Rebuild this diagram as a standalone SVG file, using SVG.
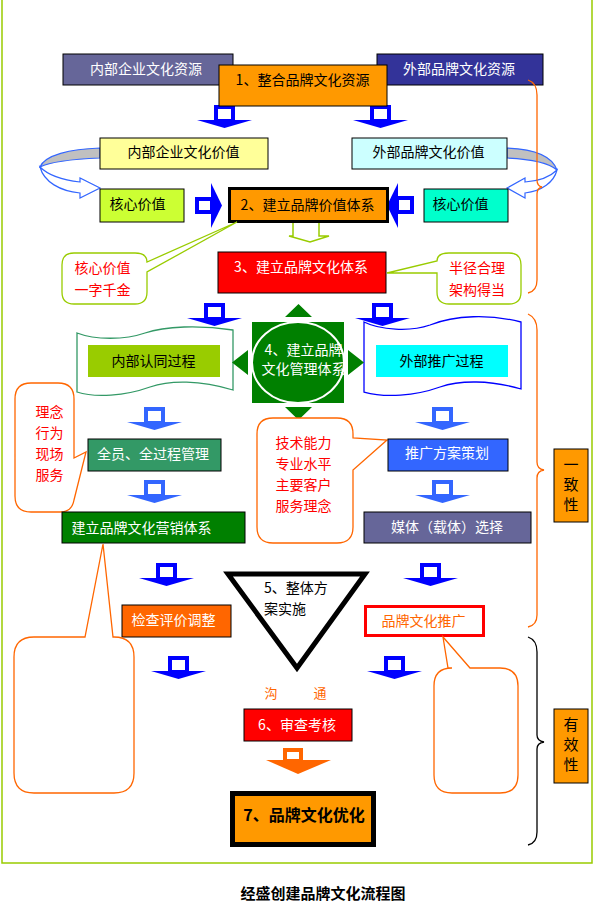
<svg xmlns="http://www.w3.org/2000/svg" xmlns:xlink="http://www.w3.org/1999/xlink" width="593" height="919" viewBox="0 0 593 919">
<style>
text{font-family:"Noto Sans CJK SC","Noto Sans",sans-serif;font-size:14px;text-anchor:middle}
.w{fill:#fff}.k{fill:#000}.r{fill:#FF0000}.o{fill:#FF6600}
.box{stroke:#000;stroke-width:1}
.bub{fill:#fff;stroke-width:1.3}
.brace{fill:none;stroke-width:1.3}
</style>
<defs>
<g id="darr">
<path d="M0,15 H55 L27.5,23 Z" fill="currentColor"/>
<rect x="19" y="2" width="17" height="14" fill="#fff" stroke="currentColor" stroke-width="4"/>
</g>
</defs>
<rect width="593" height="919" fill="#fff"/>
<path d="M2,0 V863 H592 V0" fill="none" stroke="#99CC00" stroke-width="1.5"/>

<g id="connectors">
<use xlink:href="#darr" x="197" y="105" style="color:#0000FF"/>
<use xlink:href="#darr" x="353" y="105" style="color:#0000FF"/>
<use xlink:href="#darr" x="187" y="303" style="color:#0000FF"/>
<use xlink:href="#darr" x="355" y="303" style="color:#0000FF"/>
<use xlink:href="#darr" x="127" y="407" style="color:#3366FF"/>
<use xlink:href="#darr" x="415" y="407" style="color:#3366FF"/>
<use xlink:href="#darr" x="127" y="480" style="color:#3366FF"/>
<use xlink:href="#darr" x="415" y="480" style="color:#3366FF"/>
<use xlink:href="#darr" x="139" y="563" style="color:#0000FF"/>
<use xlink:href="#darr" x="403" y="563" style="color:#0000FF"/>
<use xlink:href="#darr" x="151" y="656" style="color:#0000FF"/>
<use xlink:href="#darr" x="367" y="656" style="color:#0000FF"/>
<g style="color:#FF6600">
<path d="M266,760 H331 L298,774 Z" fill="currentColor"/>
<rect x="285" y="750" width="16" height="11" fill="#fff" stroke="currentColor" stroke-width="4"/>
</g>
<!-- right pointing arrow into box 2 -->
<path d="M211,183 V228 L222,205.5 Z" fill="#0000FF"/>
<rect x="197" y="199" width="15" height="13" fill="#fff" stroke="#0000FF" stroke-width="4"/>
<!-- left pointing arrow into box 2 -->
<path d="M398,183 V228 L387,205.5 Z" fill="#0000FF"/>
<rect x="397" y="198" width="15" height="14" fill="#fff" stroke="#0000FF" stroke-width="4"/>
<!-- small arrow 2 -> 3 -->
<path d="M293,222 V236 H289 L310,242 L329,236 H319 V222" fill="#fff" stroke="#99CC00" stroke-width="1.5"/>
<!-- curved arrows -->
<path d="M100,148 C70,149 45,155 40,167 C50,162 75,159 100,158 Z" fill="#C0C0C0" stroke="#3366FF" stroke-width="1.2"/>
<path d="M40,167 C48,175 62,180 80,182 L80,178 L100,188 L80,198 L80,193 C60,191 44,182 40,167 Z" fill="#fff" stroke="#3366FF" stroke-width="1.2"/>
<path d="M507,148 C535,149 552,156 557,170 C548,162 530,159 507,158 Z" fill="#C0C0C0" stroke="#3366FF" stroke-width="1.2"/>
<path d="M557,170 C550,177 540,181 525,182 L525,178 L507,188 L525,198 L525,193 C542,191 554,182 557,170 Z" fill="#fff" stroke="#3366FF" stroke-width="1.2"/>
</g>

<g id="n-res-in"><rect class="box" x="63" y="54" width="170" height="31" fill="#666699"/><text class="w" x="146" y="74">内部企业文化资源</text></g>
<g id="n-res-out"><rect class="box" x="377" y="54" width="166" height="31" fill="#333399"/><text class="w" x="459" y="74">外部品牌文化资源</text></g>
<g id="n1"><rect class="box" x="219" y="65" width="168" height="41" fill="#FF9900"/><text class="k" x="302.5" y="85">1、整合品牌文化资源</text></g>
<g id="n-val-in"><rect class="box" x="100" y="138" width="168" height="31" fill="#FFFF99"/><text class="k" x="183.5" y="157">内部企业文化价值</text></g>
<g id="n-val-out"><rect class="box" x="352" y="138" width="155" height="31" fill="#CCFFFF"/><text class="k" x="428.5" y="157">外部品牌文化价值</text></g>
<g id="n-core-l"><rect class="box" x="100" y="189" width="84" height="33" fill="#CCFF33"/><text class="k" x="137.5" y="209">核心价值</text></g>
<g id="n-core-r"><rect class="box" x="424" y="189" width="84" height="33" fill="#00FFCC"/><text class="k" x="460.5" y="209">核心价值</text></g>
<g id="n2"><rect x="229.5" y="188.5" width="158" height="33" fill="#FF9900" stroke="#000" stroke-width="3"/><text class="k" x="307.5" y="210">2、建立品牌价值体系</text></g>
<g id="n3"><rect class="box" x="218" y="252" width="168" height="41" fill="#FF0000"/><text class="w" x="301" y="271.5">3、建立品牌文化体系</text></g>

<g id="b-core">
<path class="bub" stroke="#99CC00" d="M74,253 H135 Q147,253 147,262 L237,222 L147,272 V292 Q147,304 135,304 H74 Q62,304 62,292 V265 Q62,253 74,253 Z"/>
<text class="r" x="102.5" y="273">核心价值</text><text class="r" x="102.5" y="295">一字千金</text>
</g>
<g id="b-radius">
<path class="bub" stroke="#99CC00" d="M449,253 H509 Q521,253 521,265 V292 Q521,304 509,304 H449 Q437,304 437,292 V273 H387 L437,261 Q437,253 449,253 Z"/>
<text class="r" x="477" y="273">半径合理</text><text class="r" x="477" y="295">架构得当</text>
</g>

<g id="n-internal">
<path d="M77,333 C95,340 125,340 145,333 C165,326 200,325 233,330 L233,390 C200,380 170,380 150,387 C125,396 95,398 77,392 Z" fill="#fff" stroke="#339966" stroke-width="1.3"/>
<rect x="88" y="345" width="132" height="32" fill="#99CC00"/>
<text class="k" x="153.5" y="366">内部认同过程</text>
</g>
<g id="n-external">
<path d="M364,322 C380,330 410,332 430,325 C455,315 490,314 521,322 L521,389 C490,380 460,380 440,387 C415,396 385,398 364,392 Z" fill="#fff" stroke="#0000FF" stroke-width="1.3"/>
<rect x="376" y="345" width="132" height="32" fill="#00FFFF"/>
<text class="k" x="441.5" y="366">外部推广过程</text>
</g>
<g id="n4">
<rect x="252" y="322" width="92" height="81" fill="#008000"/>
<ellipse cx="298" cy="362.5" rx="46" ry="40.5" fill="#008000" stroke="#fff" stroke-width="2"/>
<path d="M285,317 H312 L298.5,304 Z M285,407 H312 L298.5,420 Z M248,350 V375 L232,362.5 Z M348,350 V375 L364,362.5 Z" fill="#008000"/>
<text class="w" x="303.5" y="355">4、建立品牌</text><text class="w" x="303.5" y="374">文化管理体系</text>
</g>

<g id="b-idea">
<path class="bub" stroke="#FF6600" d="M31,383 H58 Q74,383 74,399 V458 L86,452 L74,500 Q72,512 60,512 H31 Q15,512 15,496 V399 Q15,383 31,383 Z"/>
<text class="r" x="49.5" y="417">理念</text><text class="r" x="49.5" y="438">行为</text><text class="r" x="49.5" y="459">现场</text><text class="r" x="49.5" y="480">服务</text>
</g>
<g id="b-tech">
<path class="bub" stroke="#FF6600" d="M273,418 H337 Q353,418 353,434 V438 L387,440 L353,470 V527 Q353,543 337,543 H273 Q257,543 257,527 V434 Q257,418 273,418 Z"/>
<text class="r" x="303.5" y="448">技术能力</text><text class="r" x="303.5" y="469">专业水平</text><text class="r" x="303.5" y="490">主要客户</text><text class="r" x="303.5" y="511">服务理念</text>
</g>

<g id="n-all"><rect class="box" x="88" y="439" width="133" height="32" fill="#339966"/><text class="w" x="153" y="459">全员、全过程管理</text></g>
<g id="n-plan"><rect class="box" x="388" y="439" width="120" height="32" fill="#3366FF"/><text class="w" x="447" y="458">推广方案策划</text></g>
<g id="n-market"><rect class="box" x="62" y="512" width="183" height="31" fill="#008000"/><text class="w" x="141.5" y="532.5">建立品牌文化营销体系</text></g>
<g id="n-media"><rect class="box" x="364" y="512" width="167" height="31" fill="#666699"/><text class="w" x="447" y="532">媒体（载体）选择</text></g>

<g id="n5">
<path d="M228,574 H365 L297,668 Z" fill="#fff" stroke="#000" stroke-width="5" stroke-linejoin="miter"/>
<text class="k" x="264" y="593" style="text-anchor:start">5、整体方</text>
<text class="k" x="264" y="614" style="text-anchor:start">案实施</text>
</g>
<g id="n-check"><rect class="box" x="122" y="605" width="109" height="32" fill="#FF6600"/><text class="w" x="173.5" y="625">检查评价调整</text></g>
<g id="n-promo"><rect x="365.5" y="606.5" width="118" height="29" fill="#fff" stroke="#FF0000" stroke-width="3"/><text class="o" x="423.5" y="626">品牌文化推广</text></g>

<g id="b-empty-l">
<path class="bub" stroke="#FF6600" d="M34,637 H85 L103,544 L113,637 H114 Q134,637 134,657 V773 Q134,793 114,793 H34 Q14,793 14,773 V657 Q14,637 34,637 Z"/>
</g>
<g id="b-empty-r">
<path class="bub" stroke="#FF6600" d="M452,668 H448 L443,637 L470,668 H500 Q518,668 518,686 V775 Q518,793 500,793 H452 Q434,793 434,775 V686 Q434,668 452,668 Z"/>
</g>

<g id="t-comm"><text class="o" x="271" y="698" style="font-size:13px">沟</text><text class="o" x="320" y="698" style="font-size:13px">通</text></g>
<g id="n6"><rect class="box" x="244" y="709" width="108" height="32" fill="#FF0000"/><text class="w" x="297" y="730">6、审查考核</text></g>
<g id="n7"><rect x="232.5" y="793.5" width="141" height="51" fill="#FF9900" stroke="#000" stroke-width="5"/><text class="k" x="304" y="821" style="font-size:16px;font-weight:bold">7、品牌文化优化</text></g>

<g id="braces">
<path class="brace" stroke="#FF6600" d="M528,80 Q537,83 537,95 V180 Q537,186 542,187 Q537,188 537,194 V280 Q537,291 528,293"/>
<path class="brace" stroke="#FF6600" d="M528,314 Q537,318 537,330 V462 Q537,469 544,470 Q537,471 537,478 V615 Q537,625 528,627"/>
<path class="brace" stroke="#000" d="M528,637 Q537,640 537,652 V735 Q537,741 544,742 Q537,743 537,749 V832 Q537,843 528,845"/>
</g>
<g id="n-consist"><rect class="box" x="554" y="449" width="34" height="73" fill="#FF9900"/><text class="k" x="571" y="470" style="font-size:15px">一</text><text class="k" x="571" y="490" style="font-size:15px">致</text><text class="k" x="571" y="510" style="font-size:15px">性</text></g>
<g id="n-effect"><rect class="box" x="554" y="709" width="34" height="74" fill="#FF9900"/><text class="k" x="571" y="730" style="font-size:15px">有</text><text class="k" x="571" y="750" style="font-size:15px">效</text><text class="k" x="571" y="770" style="font-size:15px">性</text></g>

<text class="k" x="323" y="899" style="font-size:15px;font-weight:bold">经盛创建品牌文化流程图</text>
</svg>
